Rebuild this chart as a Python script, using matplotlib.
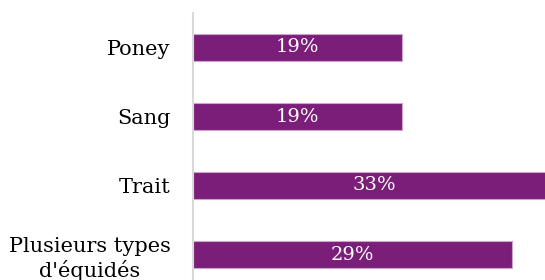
import matplotlib.pyplot as plt

categories = ["Poney", "Sang", "Trait", "Plusieurs types\nd'équidés"]
values = [19, 19, 33, 29]
labels = ["19%", "19%", "33%", "29%"]

fig = plt.figure(figsize=(5.45, 2.8), dpi=100)
ax = fig.add_axes([193 / 545, -9 / 280, 352 / 545, 276 / 280])

pos = list(range(len(categories)))
ax.barh(pos, values, height=0.4, color="#7B1E7A", edgecolor="#C9A5C9", linewidth=0.8)

for p, v, lab in zip(pos, values, labels):
    ax.text(v / 2, p, lab, ha="center", va="center", color="white",
            fontsize=14, family="DejaVu Serif")

ax.set_xlim(0, 32)
ax.set_ylim(3.5, -0.5)
ax.set_yticks(pos)
ax.set_yticklabels(categories, fontsize=15, family="DejaVu Serif",
                   multialignment="center", linespacing=1.25)
ax.tick_params(axis="y", length=0, pad=16)
ax.set_xticks([])
for s in ["top", "right", "bottom"]:
    ax.spines[s].set_visible(False)
ax.spines["left"].set_color("#D9D9D9")
ax.spines["left"].set_linewidth(1.5)

plt.savefig("out.png", dpi=100)
plt.close()
